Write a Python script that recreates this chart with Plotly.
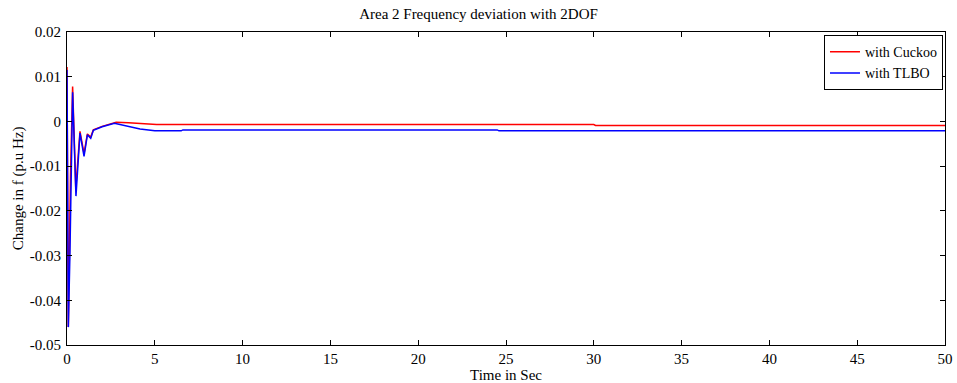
import plotly.graph_objects as go

# Time points (s) and frequency deviation values
t_cuckoo = [0, 0.075, 0.2, 0.32, 0.5, 0.74, 0.97, 1.16, 1.35, 1.5, 2.0, 2.8, 3.5, 5.1, 30.0, 30.1, 50]
f_cuckoo = [0.0122, -0.046, -0.012, 0.0078, -0.015, -0.0022, -0.0072, -0.0028, -0.0035, -0.0019,
            -0.0011, -0.0002, -0.0003, -0.0007, -0.0007, -0.0009, -0.0009]

t_tlbo = [0, 0.075, 0.17, 0.26, 0.32, 0.51, 0.74, 0.97, 1.16, 1.35, 1.5, 2.0, 2.7, 4.16, 5.0, 6.5, 6.6,
          24.5, 24.6, 50]
f_tlbo = [0.0115, -0.046, -0.029, -0.007, 0.0065, -0.0167, -0.0026, -0.0078, -0.003, -0.0038, -0.002,
          -0.0012, -0.0004, -0.0017, -0.0021, -0.0021, -0.0019, -0.0019, -0.0021, -0.0021]

x_ticks = list(range(0, 51, 5))
y_ticks = [-0.05, -0.04, -0.03, -0.02, -0.01, 0, 0.01, 0.02]
y_labels = ["-0.05", "-0.04", "-0.03", "-0.02", "-0.01", "0", "0.01", "0.02"]

font = "Liberation Serif, Times New Roman, serif"
fs = 15

fig = go.Figure()
fig.add_trace(go.Scatter(x=t_cuckoo, y=f_cuckoo, mode="lines", name="with Cuckoo",
                         line=dict(color="#ff0000", width=1.5)))
fig.add_trace(go.Scatter(x=t_tlbo, y=f_tlbo, mode="lines", name="with TLBO",
                         line=dict(color="#0000ff", width=1.5)))

axis_common = dict(showgrid=False, zeroline=False, showline=True, linecolor="black", linewidth=1,
                   mirror="ticks", ticks="inside", ticklen=5, tickcolor="black", automargin=False,
                   tickfont=dict(family=font, size=fs, color="black"))

fig.update_layout(
    width=957, height=383,
    margin=dict(l=67, r=12, t=32, b=38),
    paper_bgcolor="white", plot_bgcolor="white",
    font=dict(family=font, size=fs, color="black"),
    title=dict(text="Area 2 Frequency deviation with 2DOF", x=0.5, xanchor="center",
               y=0.965, yanchor="middle", font=dict(family=font, size=fs)),
    xaxis=dict(range=[0, 50], tickvals=x_ticks, ticklabelstandoff=0, **axis_common),
    yaxis=dict(range=[-0.05, 0.02], tickvals=y_ticks, ticktext=y_labels, ticklabelstandoff=2,
               **axis_common),
    legend=dict(x=0.9977, y=0.99, xanchor="right", yanchor="top", bgcolor="white",
                bordercolor="black", borderwidth=1, font=dict(family=font, size=14),
                tracegroupgap=0, itemwidth=30),
    showlegend=True,
    annotations=[
        dict(text="Time in Sec", xref="paper", yref="paper", x=0.5, y=-0.097,
             xanchor="center", yanchor="middle", showarrow=False, font=dict(family=font, size=fs)),
        dict(text="Change in f (p.u Hz)", xref="paper", yref="paper", x=-0.055, y=0.5,
             xanchor="center", yanchor="middle", textangle=-90, showarrow=False,
             font=dict(family=font, size=fs)),
    ],
)

fig.write_html("out.html", config={"displayModeBar": False},
               post_script="document.body.style.margin='0';document.body.style.overflow='hidden';")
